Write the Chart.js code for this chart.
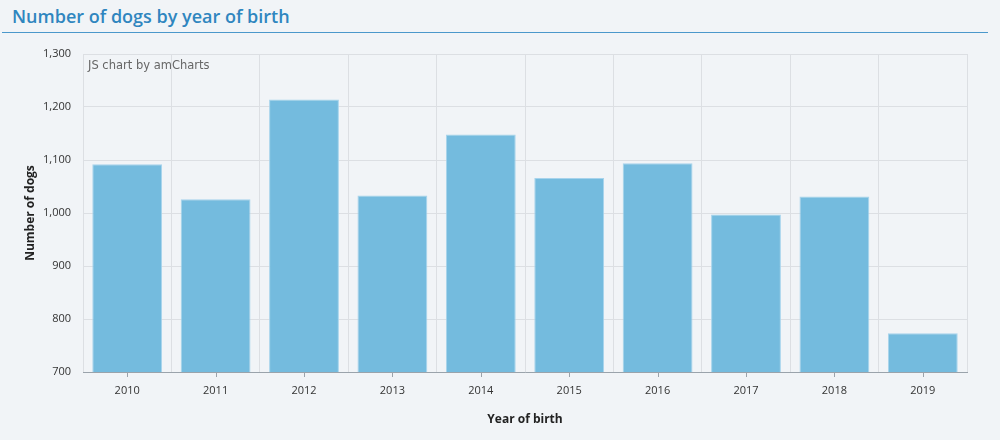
<!DOCTYPE html>
<html>
<head>
<meta charset="utf-8">
<script src="https://cdn.jsdelivr.net/npm/chart.js@4"></script>
<style>
  html, body { margin: 0; padding: 0; background: #f1f4f7; }
  body { width: 1000px; height: 440px; overflow: hidden; position: relative; font-family: "Open Sans", sans-serif; }
  h2 { position: absolute; left: 2px; top: 0; width: 986px; margin: 0; padding: 0 0 0 10px; box-sizing: border-box;
       height: 33px; line-height: 33px; font-size: 18px; font-weight: 600; color: #2f86bf;
       border-bottom: 1px solid #4b98cb; }
  #wrap { position: absolute; left: 0; top: 34px; width: 1000px; height: 406px; }
</style>
</head>
<body>
<h2>Number of dogs by year of birth</h2>
<div id="wrap"><canvas id="c"></canvas></div>
<script>
const categories = ["2010","2011","2012","2013","2014","2015","2016","2017","2018","2019"];
const dogCounts = [1092, 1026, 1214, 1033, 1148, 1066, 1094, 997, 1031, 773];
const yMin = 700, yMax = 1300, yStep = 100;
const xTitle = "Year of birth";
const yTitle = "Number of dogs";
const creditText = "JS chart by amCharts";

const extras = {
  id: 'extras',
  afterDraw(chart) {
    const ctx = chart.ctx, x = chart.scales.x, a = chart.chartArea;
    ctx.save();
    ctx.strokeStyle = '#9aa3ab';
    ctx.lineWidth = 1;
    ctx.beginPath();
    categories.forEach((c, i) => {
      const px = Math.round(x.getPixelForValue(i)) + 0.5;
      ctx.moveTo(px, a.bottom);
      ctx.lineTo(px, a.bottom + 5);
    });
    ctx.stroke();
    ctx.font = '11.5px "DejaVu Sans", sans-serif';
    ctx.fillStyle = '#666';
    ctx.textBaseline = 'middle';
    ctx.textAlign = 'left';
    ctx.fillText(creditText, a.left + 5, a.top + 12);
    ctx.restore();
  }
};

new Chart(document.getElementById('c'), {
  type: 'bar',
  data: {
    labels: categories,
    datasets: [{
      data: dogCounts,
      backgroundColor: '#74bbde',
      borderColor: '#a6d3ec',
      borderWidth: 1,
      borderSkipped: 'bottom',
      barPercentage: 0.79,
      categoryPercentage: 1
    }]
  },
  options: {
    responsive: true,
    maintainAspectRatio: false,
    animation: false,
    layout: { padding: { top: 20, right: 33, left: 19, bottom: 13 } },
    plugins: { legend: { display: false }, tooltip: { enabled: false } },
    scales: {
      x: {
        grid: { offset: true, color: '#dcdfe3', drawTicks: false },
        border: { color: '#9aa3ab' },
        ticks: { color: '#333', font: { family: 'Open Sans', size: 11 }, padding: 12 },
        title: { display: true, text: xTitle, color: '#222', font: { family: 'Open Sans', size: 12, weight: 'bold' }, padding: { top: 10, bottom: 0 } },
        afterFit(s) { s.height = 55; }
      },
      y: {
        min: yMin, max: yMax,
        grid: { color: '#dcdfe3', drawTicks: false },
        border: { display: false },
        ticks: { stepSize: yStep, color: '#333', font: { family: 'Open Sans', size: 11 }, padding: 12,
                 callback: v => v.toLocaleString('en-US') },
        title: { display: true, text: yTitle, color: '#222', font: { family: 'Open Sans', size: 12, weight: 'bold' }, padding: { bottom: 8 } },
        afterFit(s) { s.width = 64; }
      }
    }
  },
  plugins: [extras]
});
</script>
</body>
</html>
